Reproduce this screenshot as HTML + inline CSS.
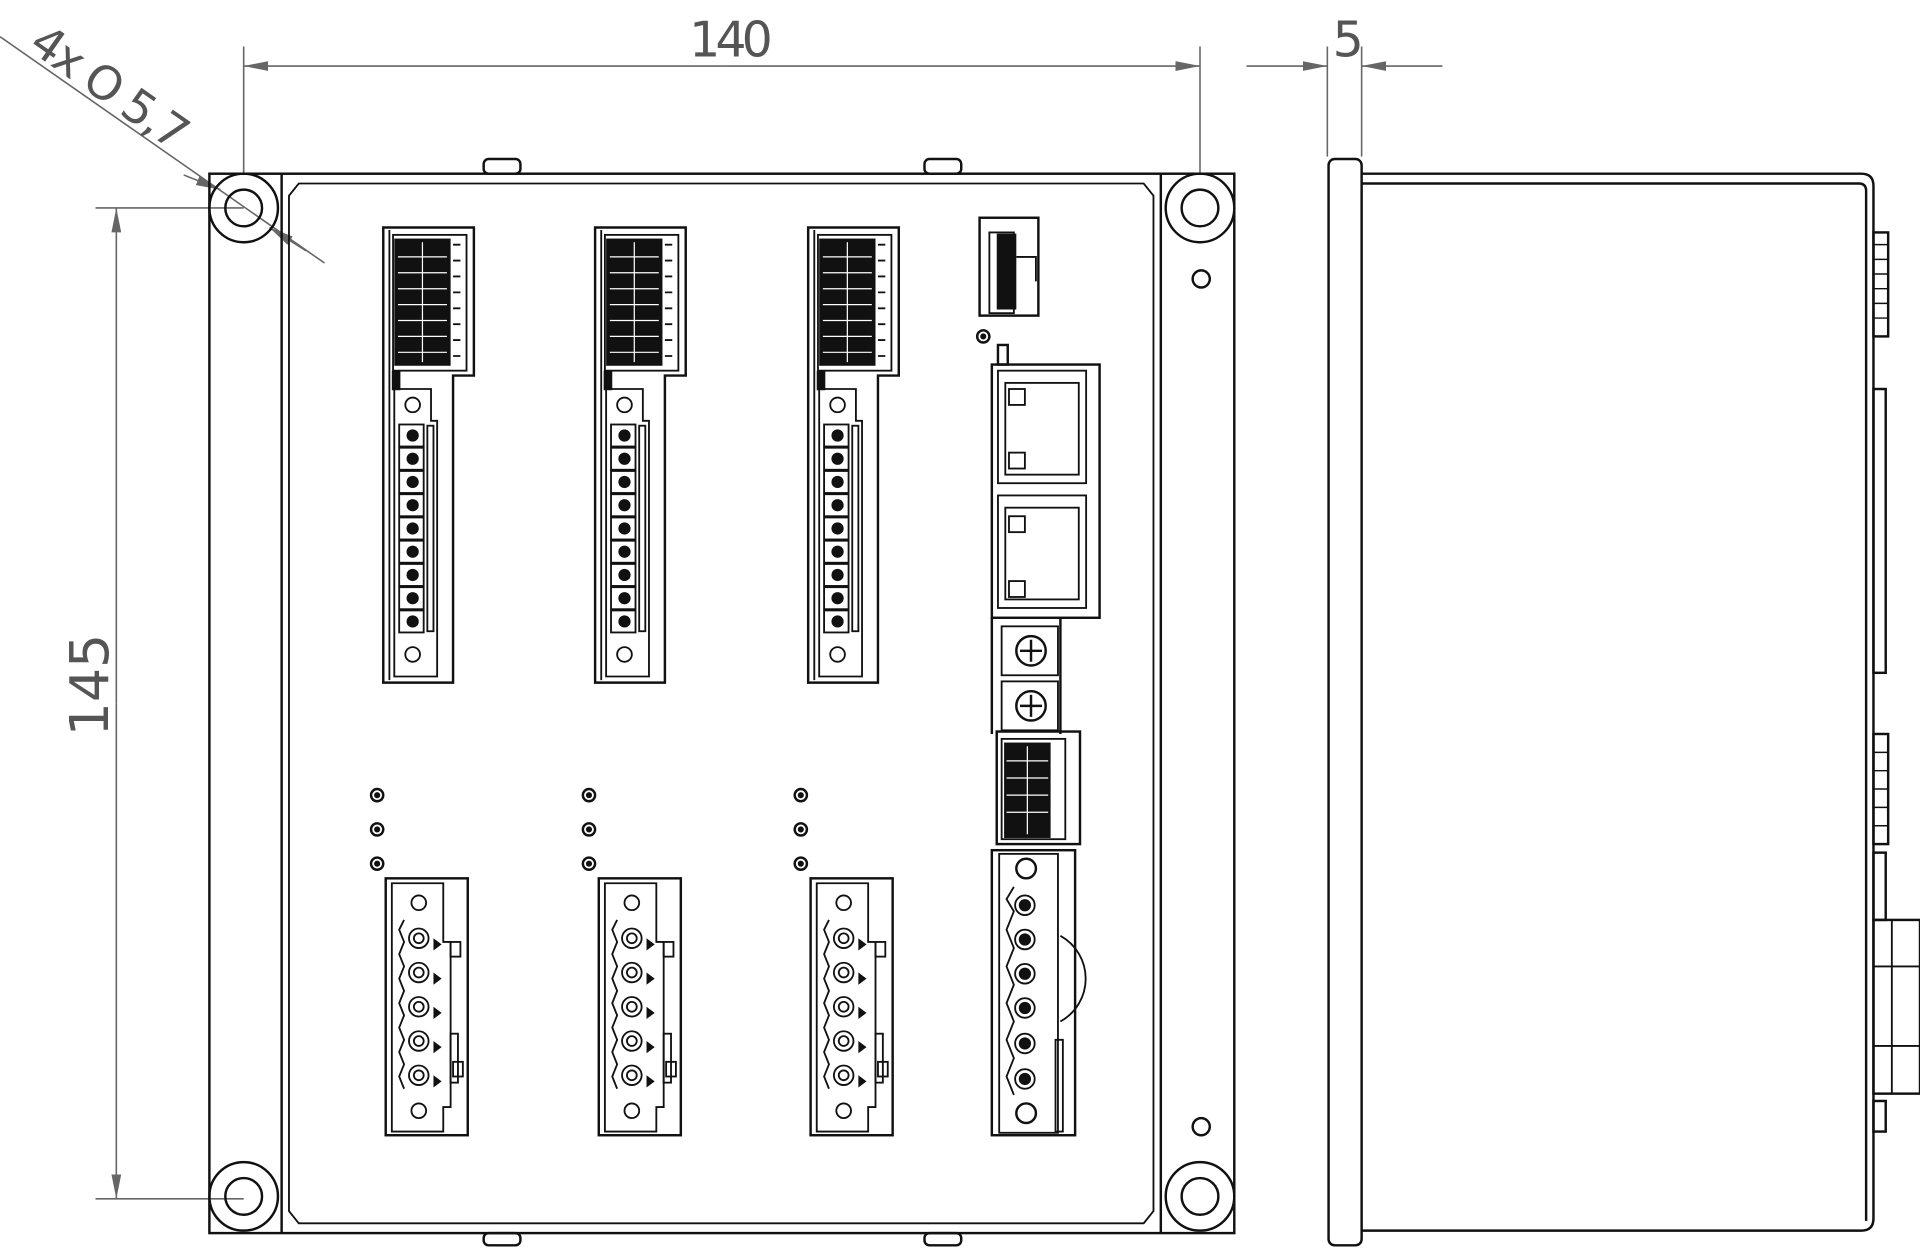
<!DOCTYPE html>
<html><head><meta charset="utf-8"><style>
html,body{margin:0;padding:0;background:#fff;}
svg{display:block}
text{font-family:"DejaVu Sans","Liberation Sans",sans-serif;fill:#555;}
</style></head><body>
<svg width="1920" height="1249" viewBox="0 0 1568 1021" preserveAspectRatio="none" xmlns="http://www.w3.org/2000/svg">
<defs>
<marker id="ar" viewBox="0 0 20 8" refX="20" refY="4" markerWidth="20" markerHeight="8" markerUnits="userSpaceOnUse" orient="auto">
<path d="M0,0 L20,4 L0,8 Z" fill="#666"/></marker>
<g id="topC" fill="none" stroke="#111" stroke-width="2">
<path d="M313,186 H387 V307 H370 V558 H313 Z"/>
<line x1="318" y1="188" x2="318" y2="556" stroke-width="1.5"/>
<rect x="321" y="192" width="60" height="111" stroke-width="1.5"/>
<rect x="323" y="196" width="44" height="102" fill="#111"/>
<g stroke="#fff" stroke-width="1">
<line x1="345" y1="198" x2="345" y2="296"/>
<line x1="325" y1="210" x2="365" y2="210"/><line x1="325" y1="223" x2="365" y2="223"/>
<line x1="325" y1="236" x2="365" y2="236"/><line x1="325" y1="249" x2="365" y2="249"/>
<line x1="325" y1="262" x2="365" y2="262"/><line x1="325" y1="275" x2="365" y2="275"/>
<line x1="325" y1="288" x2="365" y2="288"/></g>
<path d="M370,200 h6 M370,213 h6 M370,226 h6 M370,239 h6 M370,252 h6 M370,265 h6 M370,278 h6 M370,291 h6" stroke-width="1.5"/>
<rect x="321" y="304" width="5" height="14" fill="#111"/>
<path d="M322,318 H352 V344 H357 V553 H322 Z" stroke-width="1.5"/>
<circle cx="337" cy="331" r="6" stroke-width="1.5"/>
<circle cx="337" cy="535" r="6" stroke-width="1.5"/>
<g stroke-width="1.5">
<rect x="326" y="347" width="20" height="18"/><rect x="326" y="366" width="20" height="18"/>
<rect x="326" y="385" width="20" height="18"/><rect x="326" y="404" width="20" height="18"/>
<rect x="326" y="423" width="20" height="18"/><rect x="326" y="442" width="20" height="18"/>
<rect x="326" y="461" width="20" height="18"/><rect x="326" y="480" width="20" height="18"/>
<rect x="326" y="499" width="20" height="18"/>
<rect x="349" y="348" width="5" height="168"/>
</g>
<g fill="#111" stroke="none">
<circle cx="337" cy="356" r="5"/><circle cx="337" cy="375" r="5"/><circle cx="337" cy="394" r="5"/>
<circle cx="337" cy="413" r="5"/><circle cx="337" cy="432" r="5"/><circle cx="337" cy="451" r="5"/>
<circle cx="337" cy="470" r="5"/><circle cx="337" cy="489" r="5"/><circle cx="337" cy="508" r="5"/>
</g>
</g>
<g id="botC" fill="none" stroke="#111" stroke-width="2">
<rect x="315" y="718" width="67" height="210"/>
<path d="M320,722 H362 V770 H368 V905 H362 V925 H320 Z" stroke-width="1.5"/>
<circle cx="342" cy="738" r="6" stroke-width="1.5"/>
<circle cx="342" cy="908" r="6" stroke-width="1.5"/>
<path d="M330,752 L326,760 L330,770 L326,780 L330,790 L326,800 L330,810 L326,820 L330,830 L326,840 L330,850 L326,860 L330,870 L326,880 L330,890" stroke-width="1.5"/>
<g stroke-width="1.5">
<circle cx="342" cy="767" r="8"/><circle cx="342" cy="795" r="8"/><circle cx="342" cy="823" r="8"/>
<circle cx="342" cy="851" r="8"/><circle cx="342" cy="879" r="8"/>
<circle cx="342" cy="767" r="4"/><circle cx="342" cy="795" r="4"/><circle cx="342" cy="823" r="4"/>
<circle cx="342" cy="851" r="4"/><circle cx="342" cy="879" r="4"/>
<rect x="368" y="770" width="8" height="12"/><rect x="368" y="845" width="6" height="40"/>
<rect x="370" y="868" width="8" height="12"/>
</g>
<path d="M355,769 l4,3 -4,3 Z M355,797 l4,3 -4,3 Z M355,825 l4,3 -4,3 Z M355,853 l4,3 -4,3 Z M355,881 l4,3 -4,3 Z" fill="#111"/>
</g>
<g id="leds" fill="none" stroke="#111" stroke-width="2">
<circle cx="308" cy="650" r="5"/><circle cx="308" cy="678" r="5"/><circle cx="308" cy="706" r="5"/>
<circle cx="308" cy="650" r="1.5" fill="#111"/><circle cx="308" cy="678" r="1.5" fill="#111"/><circle cx="308" cy="706" r="1.5" fill="#111"/>
</g>
</defs>

<!-- dimensions -->
<g stroke="#666" stroke-width="1.3" fill="none">
<line x1="199" y1="38" x2="199" y2="142"/><line x1="980" y1="38" x2="980" y2="142"/>
<line x1="590" y1="54" x2="199" y2="54" marker-end="url(#ar)"/>
<line x1="590" y1="54" x2="980" y2="54" marker-end="url(#ar)"/>
<line x1="1084" y1="38" x2="1084" y2="128"/><line x1="1112" y1="38" x2="1112" y2="128"/>
<line x1="1018" y1="54" x2="1084" y2="54" marker-end="url(#ar)"/>
<line x1="1178" y1="54" x2="1112" y2="54" marker-end="url(#ar)"/>
<line x1="78" y1="170" x2="199" y2="170"/><line x1="78" y1="980" x2="199" y2="980"/>
<line x1="95" y1="575" x2="95" y2="170" marker-end="url(#ar)"/>
<line x1="95" y1="575" x2="95" y2="980" marker-end="url(#ar)"/>
<line x1="0" y1="30" x2="265" y2="215"/>
<line x1="150" y1="143" x2="180" y2="155" marker-end="url(#ar)"/>
<line x1="250" y1="205" x2="220" y2="186" marker-end="url(#ar)"/>
</g>
<text x="595" y="46" font-size="40" text-anchor="middle" letter-spacing="-4">140</text>
<text x="1101" y="46" font-size="40" text-anchor="middle">5</text>
<text transform="translate(88,560) rotate(-90)" font-size="44" text-anchor="middle">145</text>
<text transform="translate(22,40) rotate(35)" font-size="38" letter-spacing="-2">4x O 5,7</text>

<!-- front housing -->
<g fill="none" stroke="#111" stroke-width="2">
<rect x="395" y="130" width="30" height="12" rx="4"/><rect x="755" y="130" width="30" height="12" rx="4"/>
<rect x="395" y="1008" width="30" height="10" rx="4"/><rect x="755" y="1008" width="30" height="10" rx="4"/>
<rect x="171" y="142" width="837" height="866"/>
<line x1="230" y1="142" x2="230" y2="1008"/><line x1="948" y1="142" x2="948" y2="1008"/>
<path d="M236,160 L244,150 H934 L942,160 V990 L934,1000 H244 L236,990 Z" stroke-width="1.5"/>
<circle cx="199" cy="170" r="28"/><circle cx="199" cy="170" r="15"/>
<circle cx="980" cy="170" r="28"/><circle cx="980" cy="170" r="15"/>
<circle cx="199" cy="978" r="28"/><circle cx="199" cy="978" r="15"/>
<circle cx="980" cy="978" r="28"/><circle cx="980" cy="978" r="15"/>
<circle cx="981" cy="228" r="7"/><circle cx="981" cy="921" r="7"/>
</g>

<use href="#topC"/><use href="#topC" x="173"/><use href="#topC" x="347"/>
<use href="#botC"/><use href="#botC" x="174"/><use href="#botC" x="347"/>
<use href="#leds"/><use href="#leds" x="173"/><use href="#leds" x="346"/>

<!-- right column -->
<g fill="none" stroke="#111" stroke-width="2">
<rect x="800" y="178" width="48" height="80"/>
<rect x="808" y="190" width="20" height="66" stroke-width="1.5"/>
<path d="M815,192 h14 v60 h-14 Z" fill="#111"/>
<path d="M830,210 h16 v20" stroke-width="1.5"/>
<circle cx="803" cy="275" r="5"/><circle cx="803" cy="275" r="1.5" fill="#111"/>
<rect x="815" y="282" width="8" height="16"/>
<rect x="810" y="298" width="88" height="207"/>
<rect x="815" y="303" width="72" height="92" stroke-width="1.5"/>
<rect x="821" y="313" width="60" height="75" stroke-width="1.5"/>
<rect x="824" y="318" width="13" height="13" stroke-width="1.5"/><rect x="824" y="370" width="13" height="13" stroke-width="1.5"/>
<rect x="815" y="405" width="72" height="92" stroke-width="1.5"/>
<rect x="821" y="415" width="60" height="75" stroke-width="1.5"/>
<rect x="824" y="422" width="13" height="13" stroke-width="1.5"/><rect x="824" y="475" width="13" height="13" stroke-width="1.5"/>
<path d="M810,505 V600 M866,505 V600"/>
<rect x="818" y="512" width="46" height="40" stroke-width="1.5"/>
<rect x="818" y="557" width="46" height="40" stroke-width="1.5"/>
<circle cx="842" cy="532" r="12"/><path d="M833,532 h18 M842,523 v18"/>
<circle cx="842" cy="577" r="12"/><path d="M833,577 h18 M842,568 v18"/>
<rect x="814" y="598" width="68" height="92"/>
<rect x="818" y="604" width="52" height="82" stroke-width="1.5"/>
<rect x="821" y="608" width="36" height="76" fill="#111"/>
<path d="M839,610 v72 M822,622 h34 M822,636 h34 M822,650 h34 M822,664 h34" stroke="#fff" stroke-width="1"/>
<rect x="810" y="695" width="68" height="233"/>
<rect x="816" y="698" width="48" height="228" stroke-width="1.5"/>
<circle cx="838" cy="710" r="8"/><circle cx="838" cy="910" r="8"/>
<path d="M828,725 L822,735 L828,745 L822,760 L828,775 L822,790 L828,805 L822,820 L828,835 L822,850 L828,865 L822,880 L828,895" stroke-width="1.5"/>
<g stroke-width="1.5"><circle cx="837" cy="740" r="8"/><circle cx="837" cy="768" r="8"/><circle cx="837" cy="796" r="8"/>
<circle cx="837" cy="824" r="8"/><circle cx="837" cy="853" r="8"/><circle cx="837" cy="882" r="8"/></g>
<g fill="#111" stroke="none"><circle cx="837" cy="740" r="5"/><circle cx="837" cy="768" r="5"/><circle cx="837" cy="796" r="5"/>
<circle cx="837" cy="824" r="5"/><circle cx="837" cy="853" r="5"/><circle cx="837" cy="882" r="5"/></g>
<path d="M866,765 A40,40 0 0 1 866,835" stroke-width="1.5"/>
<rect x="862" y="850" width="6" height="75" stroke-width="1.5"/>
</g>

<!-- side view -->
<g fill="none" stroke="#111" stroke-width="2">
<rect x="1085" y="130" width="27" height="888" rx="5"/>
<path d="M1112,142 H1520 Q1530,142 1530,152 V996 Q1530,1006 1520,1006 H1112"/>
<path d="M1112,150 H1518 Q1524,150 1524,156 V998"/>
<rect x="1530" y="190" width="12" height="85"/>
<path d="M1530,200 h12 M1530,212 h12 M1530,224 h12 M1530,236 h12 M1530,248 h12 M1530,260 h12" stroke-width="1.2"/>
<rect x="1530" y="318" width="10" height="232"/>
<rect x="1530" y="600" width="12" height="90"/>
<path d="M1530,615 h12 M1530,630 h12 M1530,645 h12 M1530,660 h12 M1530,675 h12" stroke-width="1.2"/>
<rect x="1530" y="697" width="10" height="55"/>
<rect x="1530" y="752" width="38" height="142"/>
<path d="M1545,752 v142 M1530,790 h38 M1530,855 h38" stroke-width="1.5"/>
<rect x="1530" y="900" width="10" height="25"/>
</g>
</svg>
</body></html>
